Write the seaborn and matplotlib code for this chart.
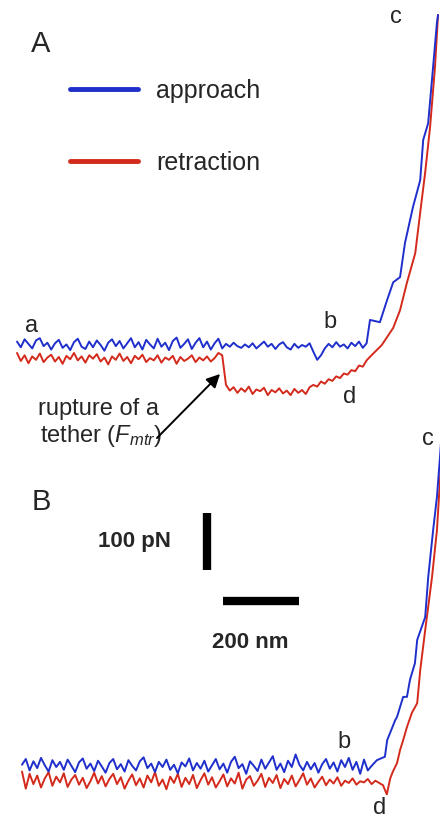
import numpy as np
import matplotlib
matplotlib.use('Agg')
import matplotlib.pyplot as plt
from matplotlib.lines import Line2D
import seaborn as sns
import pandas as pd

# force curves (x in nm, force in pN)
# flat parts are sampled every 10 nm from 0
a_approach_flat = [6, -4, 10, 2, -6, 8, 12, -2, 4, -8,
                   3, 9, -5, 1, -9, 5, 11, -3, -7, 6,
                   -4, 8, 0, -10, 4, 10, -2, 7, -6, 3,
                   12, -4, 5, -8, 9, 1, -6, 11, -3, 4,
                   -9, 7, 13, -5, 2, 10, -7, 4, 12, -4,
                   6, -8, 3, 11, -6, 2, -3, 4, -2, -5,
                   1, -4, 3, -6, 0, 6, -3, 2, -7, 1,
                   5, -4, -8, 2, -5, 0, -3, 3, -12, -26,
                   -18, -6, 2, -4, 5, -3, 1, -6, 4, -2,
                   6, -5, 3]
a_approach_rise_x = [929, 955, 974, 990, 1008, 1021, 1042, 1061, 1069, 1082, 1095, 1105, 1108]
a_approach_rise_y = [44, 40, 79, 110, 119, 179, 242, 289, 360, 389, 488, 565, 579]

a_retract_flat = [-14, -28, -18, -32, -20, -26, -15, -30, -22, -17,
                  -29, -21, -33, -19, -25, -14, -27, -20, -31, -18,
                  -24, -16, -29, -22, -34, -20, -26, -15, -28, -21,
                  -32, -19, -25, -17, -30, -23, -27, -18, -31, -22,
                  -26, -19, -33, -21, -28, -24, -18, -30, -22, -27,
                  -20, -29, -23, -14, -18, -70, -80, -74, -84, -76,
                  -82, -73, -86, -78, -81, -75, -88, -79, -83, -76,
                  -85, -80, -88, -77, -84, -79, -86, -74, -70, -73,
                  -64, -68, -60, -63, -55, -58, -50, -52, -44, -46,
                  -36, -38, -27, -20]
a_retract_rise_x = [960, 990, 1008, 1026, 1048, 1061, 1074, 1087, 1100, 1108]
a_retract_rise_y = [0, 30, 61, 109, 161, 232, 302, 382, 488, 579]

b_approach_flat = [4, 14, -6, 10, -2, 16, 3, -8, 12, 0,
                   9, -5, 13, 2, -9, 8, 15, -3, 6, -7,
                   11, 1, -10, 7, 14, -4, 5, -8, 12, 2,
                   -6, 10, 17, -2, 6, -9, 9, 0, 13, -5,
                   4, -11, 8, 1, 15, -6, 7, -3, 11, -8,
                   3, 14, -4, 6, -10, 9, 18, -2, 5, -12,
                   10, 2, -7, 13, -3, 8, 19, -5, 6, -9,
                   11, 0, 22, 4, -6, 9, -4, 7, -10, 5,
                   14, -3, 8, -8, 12, 0, 16, -5, 9, -12,
                   13, -6, 2]
b_approach_rise_x = [934, 955, 961, 982, 987, 1003, 1013, 1021, 1034, 1040, 1061, 1069, 1082, 1092, 1100, 1108]
b_approach_rise_y = [12, 18, 47, 82, 88, 123, 123, 153, 182, 223, 263, 333, 416, 474, 544, 620]

b_retract_flat = [-8, -38, -12, -30, -15, -36, -20, -9, -33, -17,
                  -27, -11, -35, -22, -14, -31, -19, -37, -25, -10,
                  -29, -16, -34, -21, -12, -30, -18, -38, -24, -13,
                  -32, -20, -36, -15, -27, -9, -33, -22, -39, -17,
                  -28, -12, -35, -19, -30, -14, -37, -23, -11, -31,
                  -18, -36, -25, -13, -34, -20, -29, -10, -38, -22,
                  -16, -33, -24, -12, -35, -19, -28, -14, -37, -21,
                  -30, -15, -34, -23, -11, -31, -20, -36, -26, -17,
                  -32, -22, -29, -18, -33, -24, -28, -20, -31, -25,
                  -27, -21, -30, -24, -28, -32, -48]
b_retract_rise_x = [969, 976, 987, 995, 1003, 1013, 1026, 1040, 1048, 1061, 1079, 1092, 1100, 1108]
b_retract_rise_y = [-20, -8, 7, 30, 47, 70, 95, 112, 170, 240, 333, 416, 503, 590]

curves = ['approach', 'retraction']
colors = {'approach': '#1f2fcc', 'retraction': '#d42a1c'}

# picture scale: 76 px = 200 nm, 57 px = 100 pN
NM_PX = 200 / 76
PN_PX = 100 / 57


def make_df(flat_app, rx_app, ry_app, flat_ret, rx_ret, ry_ret):
    rows = []
    for name, flat, rx, ry in [('approach', flat_app, rx_app, ry_app),
                               ('retraction', flat_ret, rx_ret, ry_ret)]:
        x = np.concatenate([np.arange(len(flat)) * 10, rx])
        y = np.concatenate([flat, ry])
        rows.append(pd.DataFrame({'nm': x, 'pN': y, 'curve': name}))
    return pd.concat(rows, ignore_index=True)


def set_px_limits(ax, x0, y0, top, bottom):
    ax.set_xlim((0 - x0) * NM_PX, (440 - x0) * NM_PX)
    ax.set_ylim((y0 - bottom) * PN_PX, (y0 - top) * PN_PX)
    ax.axis('off')


def main():
    sns.set_style('white')
    plt.rcParams['font.family'] = ['Liberation Sans', 'DejaVu Sans']
    plt.rcParams['mathtext.fontset'] = 'custom'
    plt.rcParams['mathtext.it'] = 'Liberation Sans:italic'
    plt.rcParams['mathtext.rm'] = 'Liberation Sans'

    fig = plt.figure(figsize=(4.4, 8.24), dpi=100)
    ax_a = fig.add_axes([0, 404 / 824, 1, 420 / 824])
    ax_b = fig.add_axes([0, 0, 1, 404 / 824])

    df_a = make_df(a_approach_flat, a_approach_rise_x, a_approach_rise_y,
                   a_retract_flat, a_retract_rise_x, a_retract_rise_y)
    df_b = make_df(b_approach_flat, b_approach_rise_x, b_approach_rise_y,
                   b_retract_flat, b_retract_rise_x, b_retract_rise_y)

    for ax, df in [(ax_a, df_a), (ax_b, df_b)]:
        sns.lineplot(data=df, x='nm', y='pN', hue='curve', hue_order=curves[::-1], palette=colors,
                     sort=False, estimator=None, legend=False, linewidth=1.4, ax=ax)
    set_px_limits(ax_a, 17, 345, 0, 420)
    set_px_limits(ax_b, 22, 767, 420, 824)

    # scale bars in panel B data units
    bar_x = (207 - 22) * NM_PX
    bar_y = (767 - 570) * PN_PX
    ax_b.plot([bar_x, bar_x], [bar_y, bar_y + 100], color='black', lw=6, solid_capstyle='butt')
    hx = (223 - 22) * NM_PX
    hy = (767 - 601) * PN_PX
    ax_b.plot([hx, hx + 200], [hy, hy], color='black', lw=6, solid_capstyle='butt')

    # overlay in pixel coordinates for text
    ax_o = fig.add_axes([0, 0, 1, 1])
    ax_o.set_xlim(0, 440)
    ax_o.set_ylim(824, 0)
    ax_o.axis('off')
    ax_o.patch.set_alpha(0)

    fs = 17
    ax_o.text(31, 52, 'A', fontsize=21, va='baseline')
    ax_o.text(32, 510, 'B', fontsize=21, va='baseline')
    for s, x, y in [('a', 25, 332), ('b', 323, 328), ('c', 390, 23), ('d', 343, 403),
                    ('c', 422, 445), ('b', 337, 748), ('d', 373, 814)]:
        ax_o.text(x, y, s, fontsize=fs, va='baseline')
    ax_o.text(38, 415, 'rupture of a', fontsize=fs, va='baseline')
    ax_o.text(40, 442, r'tether ($\mathit{F}_{\mathit{mtr}}$)', fontsize=fs, va='baseline')
    ax_o.text(98, 547, '100 pN', fontsize=16, fontweight='bold', va='baseline')
    ax_o.text(212, 648, '200 nm', fontsize=16, fontweight='bold', va='baseline')

    ax_o.annotate('', xy=(222, 372), xytext=(155, 440),
                  arrowprops=dict(arrowstyle='-|>', color='black', lw=1.4, mutation_scale=20))

    handles = [Line2D([], [], color=colors[c], lw=3.5) for c in curves]
    ax_o.legend(handles, curves, loc='upper left', bbox_to_anchor=(70, 79),
                bbox_transform=ax_o.transData, frameon=False, fontsize=18,
                handlelength=2.7, handletextpad=0.75, labelspacing=1.9,
                borderpad=0, borderaxespad=0)

    fig.savefig('out.png', dpi=100)


if __name__ == '__main__':
    main()
